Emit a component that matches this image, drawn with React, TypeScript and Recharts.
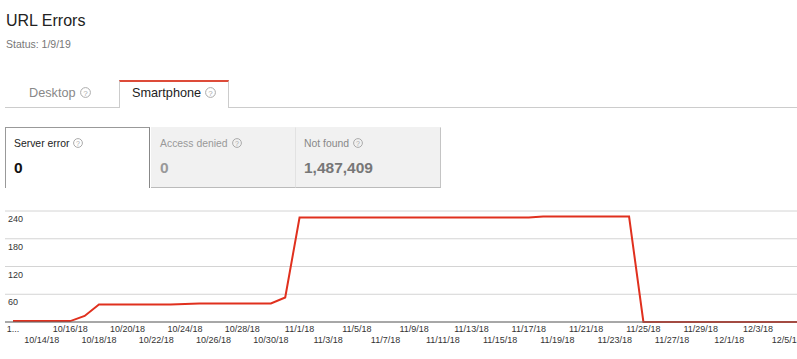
import React from 'react';
import { LineChart, Line, XAxis, YAxis, CartesianGrid } from 'recharts';

const dates = [
  '10/12/18', '10/13/18', '10/14/18', '10/15/18', '10/16/18', '10/17/18', '10/18/18', '10/19/18',
  '10/20/18', '10/21/18', '10/22/18', '10/23/18', '10/24/18', '10/25/18', '10/26/18', '10/27/18',
  '10/28/18', '10/29/18', '10/30/18', '10/31/18', '11/1/18', '11/2/18', '11/3/18', '11/4/18',
  '11/5/18', '11/6/18', '11/7/18', '11/8/18', '11/9/18', '11/10/18', '11/11/18', '11/12/18',
  '11/13/18', '11/14/18', '11/15/18', '11/16/18', '11/17/18', '11/18/18', '11/19/18', '11/20/18',
  '11/21/18', '11/22/18', '11/23/18', '11/24/18', '11/25/18', '11/26/18', '11/27/18', '11/28/18',
  '11/29/18', '11/30/18', '12/1/18', '12/2/18', '12/3/18', '12/4/18', '12/5/18', '12/6/18',
];

const serverErrors = [
  2, 2, 2, 2, 2, 13, 38, 38,
  38, 38, 38, 38, 39, 40, 40, 40,
  40, 40, 40, 53, 226, 226, 226, 226,
  226, 226, 226, 226, 226, 226, 226, 226,
  226, 226, 226, 226, 226, 228, 228, 228,
  228, 228, 228, 228, 0, 0, 0, 0,
  0, 0, 0, 0, 0, 0, 0, 0,
];

const yTicks = [0, 60, 120, 180, 240];

const cards = [
  { title: 'Server error', value: '0' },
  { title: 'Access denied', value: '0' },
  { title: 'Not found', value: '1,487,409' },
];

const chartData = dates.map((date, i) => ({ date, errors: serverErrors[i] }));

const FONT = '"Liberation Sans", Arial, sans-serif';

function HelpIcon({ size = 11, color = '#aaa' }: { size?: number; color?: string }) {
  return (
    <svg width={size} height={size} style={{ marginLeft: 4, verticalAlign: '-1px' }}>
      <circle cx={size / 2} cy={size / 2} r={size / 2 - 0.6} fill="none" stroke={color} strokeWidth={1} />
      <text x={size / 2} y={size / 2 + 3} textAnchor="middle" fontSize={size - 3} fill={color} fontFamily={FONT}>
        ?
      </text>
    </svg>
  );
}

function DateTick(props: any) {
  const { x, y, payload, index } = props;
  if (index % 2 !== 0) return null;
  const secondRow = (index / 2) % 2 === 1;
  const label = index === 0 ? payload.value.slice(0, 1) + '...' : payload.value;
  return (
    <text x={x} y={y + (secondRow ? 21 : 10)} textAnchor="middle" fontSize={9} fill="#333" fontFamily={FONT}>
      {label}
    </text>
  );
}

function ValueTick(props: any) {
  const { x, y, payload } = props;
  if (payload.value === 0) return null;
  return (
    <text x={x + 3} y={y + 11} textAnchor="start" fontSize={9} fill="#333" fontFamily={FONT}>
      {payload.value}
    </text>
  );
}

export default function App() {
  const textTop = (baseline: number, size: number) => baseline - 0.8465 * size;

  return (
    <div style={{ position: 'absolute', left: 0, top: 0, width: 797, height: 359, overflow: 'hidden', background: '#fff', fontFamily: FONT }}>
      <div style={{ position: 'absolute', left: 6, top: textTop(27, 16), fontSize: 16, lineHeight: '16px', color: '#222', whiteSpace: 'nowrap' }}>
        URL Errors
      </div>
      <div style={{ position: 'absolute', left: 6, top: textTop(48, 10.5), fontSize: 10.5, lineHeight: '10.5px', color: '#777', whiteSpace: 'nowrap' }}>
        Status: 1/9/19
      </div>

      {/* tabs */}
      <div style={{ position: 'absolute', left: 5, right: 0, top: 107, height: 1, background: '#ccc' }} />
      <div style={{ position: 'absolute', left: 29, top: textTop(98, 12.7), fontSize: 12.7, lineHeight: '12.7px', color: '#888', whiteSpace: 'nowrap' }}>
        Desktop<HelpIcon />
      </div>
      <div
        style={{
          position: 'absolute', left: 119, top: 80, width: 108, height: 26, background: '#fff',
          borderTop: '2px solid #dd4b39', borderLeft: '1px solid #ccc', borderRight: '1px solid #ccc',
        }}
      />
      <div style={{ position: 'absolute', left: 132, top: textTop(98, 12.7), fontSize: 12.7, lineHeight: '12.7px', color: '#222', whiteSpace: 'nowrap' }}>
        Smartphone<HelpIcon />
      </div>

      {/* cards */}
      {cards.map((c, i) => {
        const left = [5, 151, 295][i];
        const width = [145, 144, 146][i];
        const active = i === 0;
        const titleColor = active ? '#222' : i === 1 ? '#999' : '#888';
        const valueColor = active ? '#111' : i === 1 ? '#999' : '#777';
        return (
          <div key={c.title}>
            <div
              style={{
                position: 'absolute', left, top: 127, width, height: 61, boxSizing: 'border-box',
                background: active ? '#fff' : '#f1f1f1',
                borderTop: active ? '1px solid #999' : '1px solid #f1f1f1',
                borderLeft: active ? '1px solid #999' : i === 2 ? '1px solid #e2e2e2' : 'none',
                borderRight: active ? '1px solid #888' : i === 2 ? '1px solid #c4c4c4' : 'none',
                borderBottom: active ? 'none' : '1px solid #bbb',
              }}
            />
            <div style={{ position: 'absolute', left: left + 9, top: textTop(146.7, 10.4), fontSize: 10.4, lineHeight: '10.4px', color: titleColor, whiteSpace: 'nowrap' }}>
              {c.title}<HelpIcon size={10} />
            </div>
            <div style={{ position: 'absolute', left: left + 9, top: textTop(172.7, 15.5), fontSize: 15.5, lineHeight: '15.5px', fontWeight: 'bold', color: valueColor, whiteSpace: 'nowrap' }}>
              {c.value}
            </div>
          </div>
        );
      })}

      {/* chart */}
      <div style={{ position: 'absolute', left: 0, top: 200 }}>
        <LineChart width={805} height={159} data={chartData} margin={{ top: 11, right: 4, bottom: 0, left: 5 }}>
          <CartesianGrid vertical={false} stroke="#d4d4d4" />
          <XAxis
            dataKey="date"
            interval={0}
            padding={{ left: 8, right: 0 }}
            tickSize={0}
            tickMargin={0}
            tickLine={false}
            axisLine={{ stroke: '#666' }}
            height={37}
            tick={<DateTick />}
          />
          <YAxis
            domain={[0, 240]}
            ticks={yTicks}
            interval={0}
            width={1}
            mirror
            tickSize={0}
            tickMargin={0}
            axisLine={false}
            tickLine={false}
            tick={<ValueTick />}
          />
          <Line type="linear" dataKey="errors" stroke="#e0301e" strokeWidth={2} dot={false} isAnimationActive={false} />
        </LineChart>
      </div>
    </div>
  );
}
